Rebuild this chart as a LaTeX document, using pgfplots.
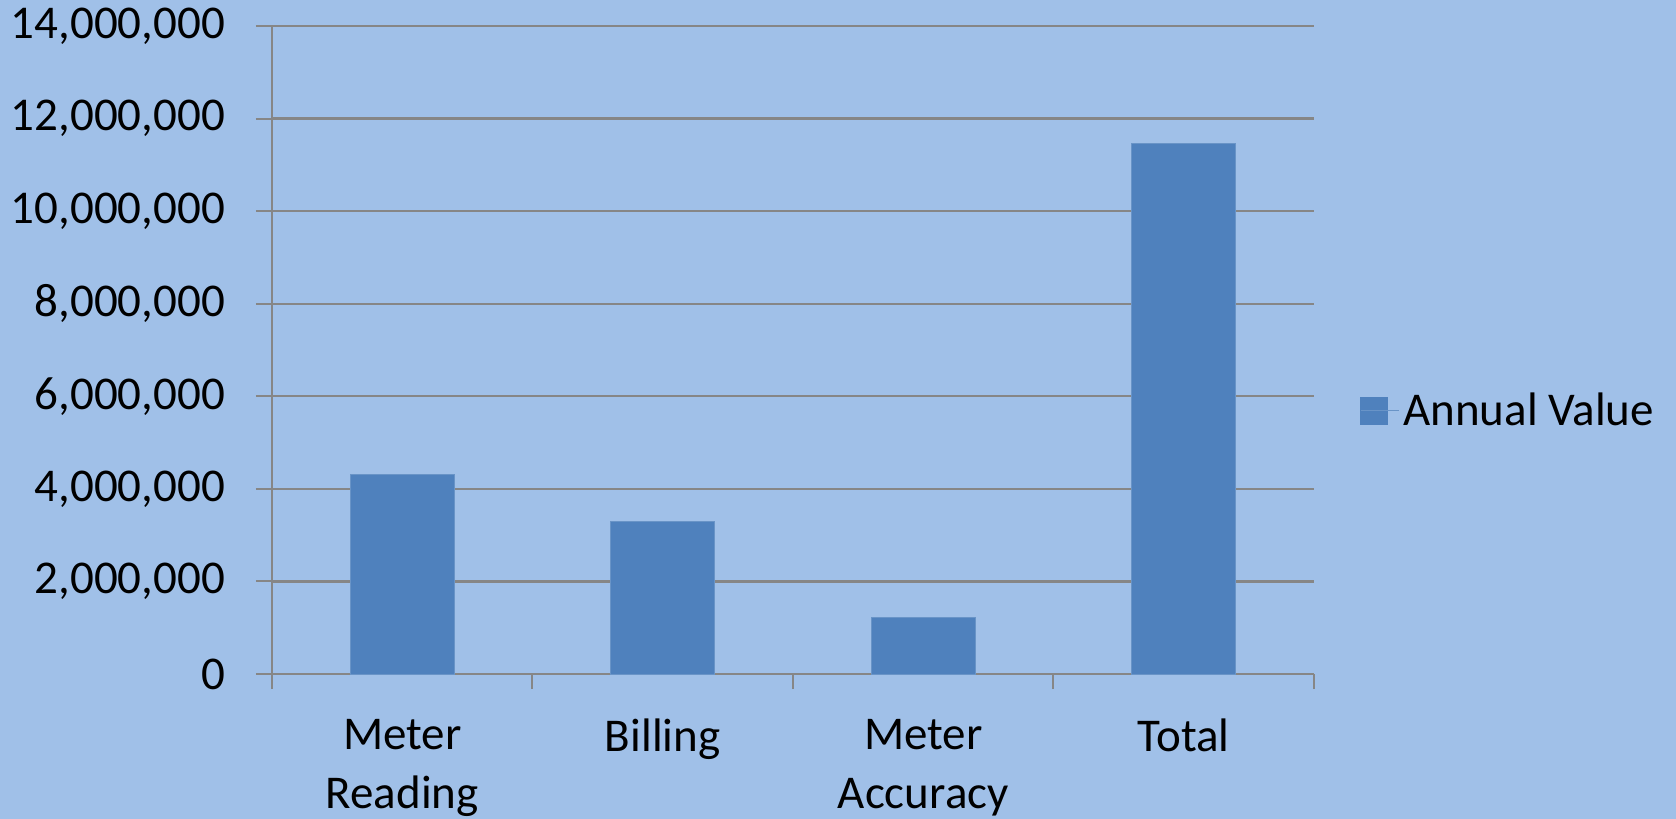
\documentclass[border=0pt]{standalone}
\usepackage{pgfplots}
\pgfplotsset{compat=1.18}
\usepackage{fontspec}
\setmainfont{Carlito}
\definecolor{bgblue}{RGB}{160,192,232}
\definecolor{barblue}{RGB}{79,129,189}
\definecolor{gridgray}{RGB}{134,134,134}
\begin{document}
\begin{tikzpicture}
\fill[bgblue] (-136pt,-72.5pt) rectangle (702pt,337pt);
\begin{axis}[
  at={(0,0)}, anchor=south west,
  scale only axis,
  width=521pt, height=324pt,
  ybar, bar width=52pt,
  xmin=-0.5, xmax=3.5,
  ymin=0, ymax=14000000,
  ytick={0,2000000,...,14000000},
  scaled y ticks=false,
  /pgf/number format/.cd, fixed, 1000 sep={,}, assume math mode=true,
  /pgfplots/.cd,
  xtick={0,1,2,3},
  xticklabels={{Meter\\Reading},{Billing},{Meter\\Accuracy},{Total}},
  minor xtick={-0.5,0.5,1.5,2.5,3.5},
  axis x line*=bottom, axis y line*=left,
  axis line style={draw=gridgray, line width=1.2pt},
  ymajorgrids, grid style={draw=gridgray, line width=1.1pt},
  tick align=outside,
  major tick length=8pt,
  minor tick length=7.5pt,
  xtick style={draw=none},
  minor x tick style={draw=gridgray, line width=1pt},
  ytick style={draw=gridgray, line width=1pt},
  tick label style={font=\fontsize{23.5}{29.5}\selectfont, text=black},
  yticklabel style={xshift=-12pt},
  xticklabel style={align=center, yshift=-11pt},
  legend style={at={(1,0.406)}, anchor=west, xshift=20pt, draw=none, fill=none,
    font=\fontsize{23.5}{29}\selectfont},
  legend image code/.code={
    \fill[barblue] (0pt,-6.75pt) rectangle (13.5pt,6.75pt);
    \path (0pt,0pt) -- (19pt,0pt);},
]
\addplot[fill=barblue, draw=barblue!85!white, line width=0.5pt] coordinates {
  (0,4310000)
  (1,3305000)
  (2,1210000)
  (3,11465000)};
\addlegendentry{Annual Value}
\end{axis}
\pgfresetboundingbox
\path[use as bounding box] (-136pt,-72.5pt) rectangle (702pt,337pt);
\end{tikzpicture}
\end{document}
